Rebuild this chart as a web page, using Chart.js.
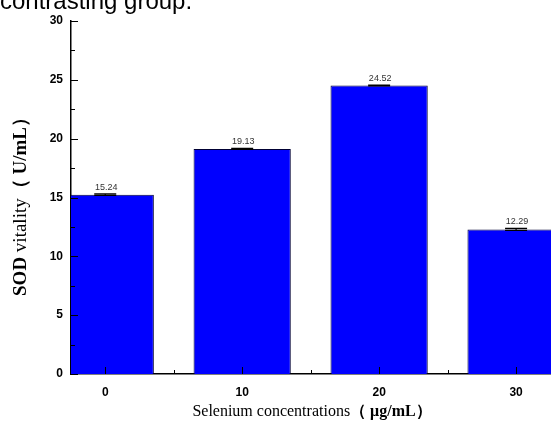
<!DOCTYPE html>
<html><head><meta charset="utf-8">
<script src="https://cdn.jsdelivr.net/npm/chart.js@4/dist/chart.umd.min.js"></script>
<style>
html,body{margin:0;padding:0;background:#fff;overflow:hidden;}
#wrap{position:relative;width:551px;height:422px;overflow:hidden;}
canvas{position:absolute;left:0;top:0;}
#cap{position:absolute;left:0;top:-11px;font:24px "Liberation Sans",Arial,sans-serif;line-height:24px;color:#000;white-space:nowrap;}
</style></head><body>
<div id="wrap"><canvas id="c" width="551" height="422"></canvas><div id="cap">contrasting group.</div></div>
<script>
const concentrations = [0, 10, 20, 30];
const sodValues = [15.24, 19.13, 24.52, 12.29];
const sodErrors = [0.06, 0.04, 0.03, 0.08];
const valueLabels = ['15.24', '19.13', '24.52', '12.29'];
const yTickValues = [0, 5, 10, 15, 20, 25, 30];
const yMinorTicks = [2.5, 7.5, 12.5, 17.5, 22.5, 27.5];
const xMinorTicks = [5, 15, 25];
const xTitleParts = [['Selenium concentrations', 'normal'], ['（ ', 'bold'], ['μg/mL', 'bold'], ['）', 'bold']];
const yTitleParts = [['SOD', 'bold'], [' vitality', 'normal'], ['（ ', 'bold'], ['U/mL', 'bold'], ['）', 'bold']];

function drawParts(ctx, parts, size) {
  let widths = parts.map(p => { ctx.font = p[1] + ' ' + size + 'px "Liberation Serif", "Times New Roman", serif'; return ctx.measureText(p[0]).width; });
  const total = widths.reduce((a, b) => a + b, 0);
  let x = -total / 2;
  parts.forEach((p, i) => {
    ctx.font = p[1] + ' ' + size + 'px "Liberation Serif", "Times New Roman", serif';
    ctx.fillText(p[0], x, 0);
    x += widths[i];
  });
}

const decor = {
  id: 'decor',
  afterDatasetsDraw(chart) {
    const ctx = chart.ctx, xs = chart.scales.x, ys = chart.scales.y;
    const ax = chart.chartArea.left, ay = chart.chartArea.bottom;
    ctx.save();
    ctx.strokeStyle = '#000';
    ctx.lineWidth = 1;
    yTickValues.forEach(v => { const y = Math.round(ys.getPixelForValue(v)) + 0.5; ctx.beginPath(); ctx.moveTo(ax, y); ctx.lineTo(ax + 7, y); ctx.stroke(); });
    yMinorTicks.forEach(v => { const y = Math.round(ys.getPixelForValue(v)) + 0.5; ctx.beginPath(); ctx.moveTo(ax, y); ctx.lineTo(ax + 4, y); ctx.stroke(); });
    concentrations.forEach(v => { const x = Math.round(xs.getPixelForValue(v)) + 0.5; ctx.beginPath(); ctx.moveTo(x, ay); ctx.lineTo(x, ay - 7); ctx.stroke(); });
    xMinorTicks.forEach(v => { const x = Math.round(xs.getPixelForValue(v)) + 0.5; ctx.beginPath(); ctx.moveTo(x, ay); ctx.lineTo(x, ay - 4); ctx.stroke(); });
    concentrations.forEach((c, i) => {
      const x = xs.getPixelForValue(c);
      const yTop = ys.getPixelForValue(sodValues[i] + sodErrors[i]);
      const yBot = ys.getPixelForValue(sodValues[i] - sodErrors[i]);
      ctx.strokeStyle = '#000';
      ctx.lineWidth = 1.2;
      ctx.beginPath();
      ctx.moveTo(x - 11, yTop); ctx.lineTo(x + 11, yTop);
      ctx.moveTo(x - 11, yBot); ctx.lineTo(x + 11, yBot);
      ctx.moveTo(x, yTop); ctx.lineTo(x, yBot);
      ctx.stroke();
      ctx.fillStyle = '#333';
      ctx.font = '9px "Liberation Sans", Arial, sans-serif';
      ctx.textAlign = 'center';
      ctx.textBaseline = 'alphabetic';
      ctx.fillText(valueLabels[i], x + 1, yTop - 4);
    });
    ctx.fillStyle = '#000';
    ctx.textAlign = 'left';
    ctx.textBaseline = 'alphabetic';
    ctx.save();
    ctx.translate(312, 416);
    drawParts(ctx, xTitleParts, 16);
    ctx.restore();
    ctx.save();
    ctx.translate(26, 202);
    ctx.rotate(-Math.PI / 2);
    drawParts(ctx, yTitleParts, 19);
    ctx.restore();
    ctx.restore();
  }
};

const tickFont = { family: '"Liberation Sans", Arial, sans-serif', weight: 'bold', size: 12 };

new Chart(document.getElementById('c').getContext('2d'), {
  type: 'bar',
  data: {
    datasets: [{
      data: concentrations.map((x, i) => ({ x: x, y: sodValues[i] })),
      backgroundColor: '#0000ff',
      borderColor: '#000033',
      borderWidth: 1,
      barPercentage: 0.71,
      categoryPercentage: 1,
      clip: 0
    }]
  },
  options: {
    responsive: false,
    animation: false,
    devicePixelRatio: 1,
    layout: { padding: { top: 21, left: 0, right: 0, bottom: 0 } },
    plugins: { legend: { display: false }, tooltip: { enabled: false } },
    scales: {
      x: {
        type: 'linear', min: -2.5, max: 32.55, offset: false,
        grid: { display: false, drawTicks: false, offset: false },
        border: { display: true, color: '#000', width: 1.5 },
        afterBuildTicks: s => { s.ticks = concentrations.map(v => ({ value: v })); },
        ticks: { padding: 11, font: tickFont, color: '#000' },
        afterFit: s => { s.height = 48; }
      },
      y: {
        min: 0, max: 30,
        grid: { display: false, drawTicks: false },
        border: { display: true, color: '#000', width: 1.5 },
        afterBuildTicks: s => { s.ticks = yTickValues.map(v => ({ value: v })); },
        ticks: { padding: 8, font: tickFont, color: '#000' },
        afterFit: s => { s.width = 71; }
      }
    }
  },
  plugins: [decor]
});
</script>
</body></html>
